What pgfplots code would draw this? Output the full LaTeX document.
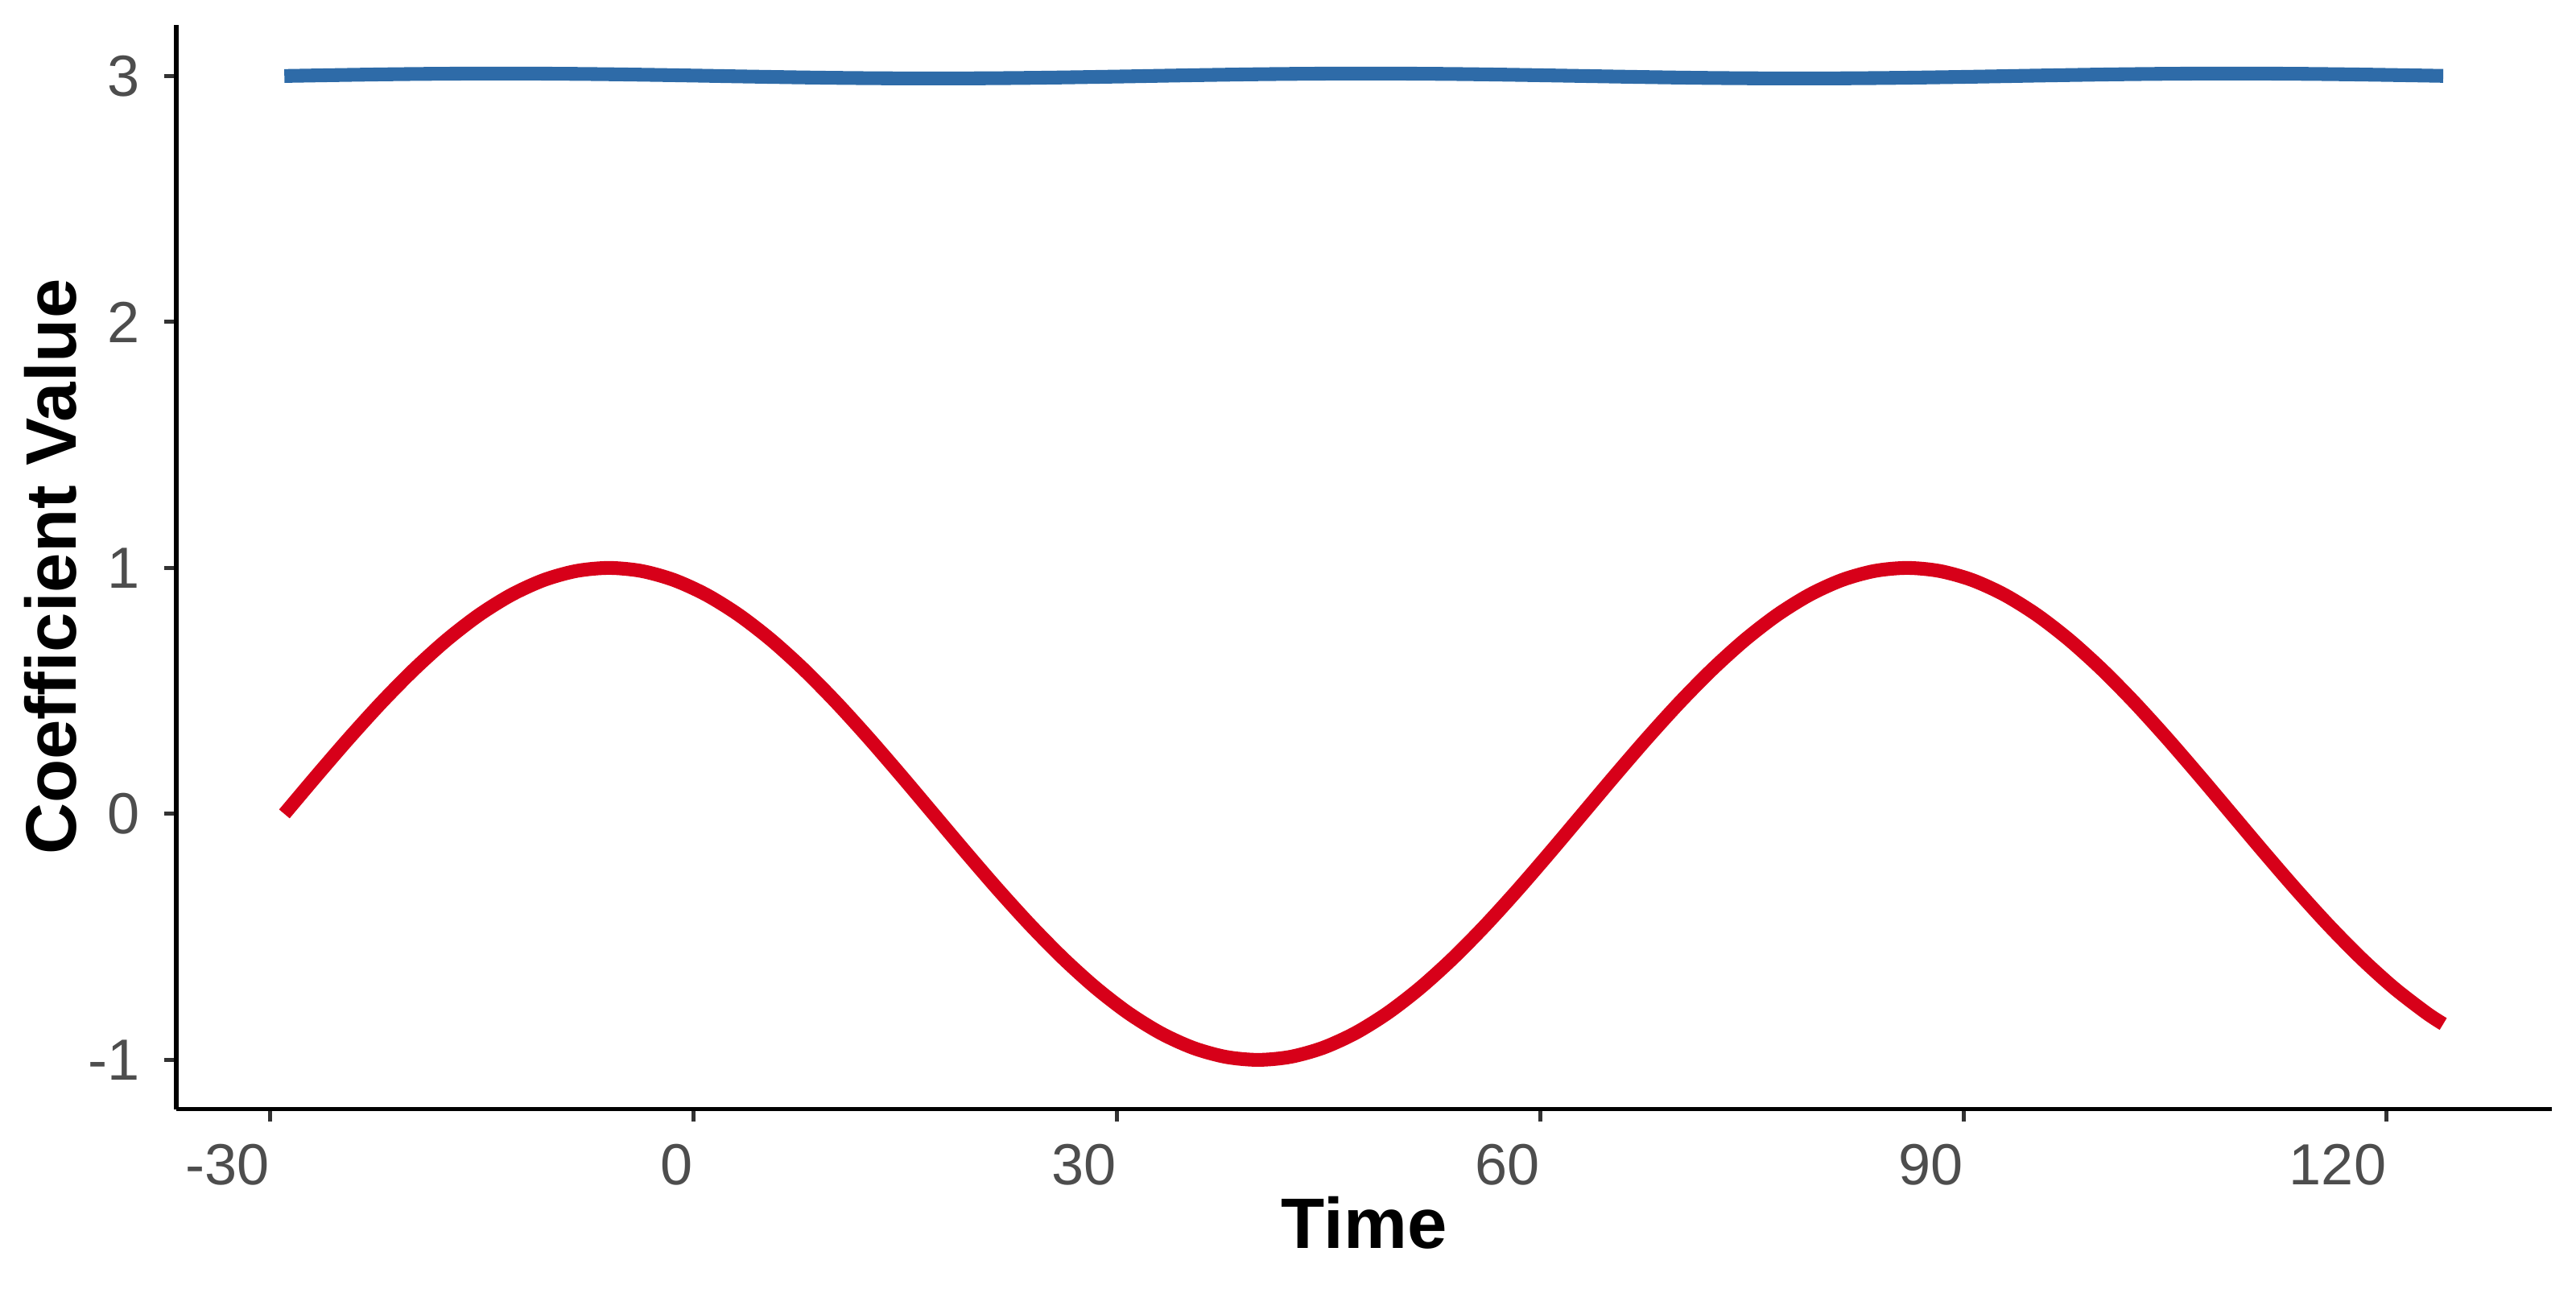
\documentclass[border=0pt]{standalone}
\usepackage{fontspec}
\setmainfont{Liberation Sans}
\usepackage{pgfplots}
\usepackage{pgfplotstable}
\pgfplotsset{compat=1.18}
\definecolor{redline}{RGB}{215,0,25}
\definecolor{blueline}{RGB}{46,107,168}
\definecolor{ticktext}{RGB}{77,77,77}
\definecolor{tickcol}{RGB}{51,51,51}
\pgfplotstableread{
t red blue
-29 0 3.0000
-26.7 0.1564 3.0023
-24.4 0.3090 3.0045
-22.1 0.4540 3.0065
-19.8 0.5878 3.0081
-17.5 0.7071 3.0092
-15.2 0.8090 3.0099
-12.9 0.8910 3.0100
-10.6 0.9511 3.0095
-8.3 0.9877 3.0085
-6 1 3.0071
-3.7 0.9877 3.0052
-1.4 0.9511 3.0031
0.9 0.8910 3.0008
3.2 0.8090 2.9984
5.5 0.7071 2.9962
7.8 0.5878 2.9941
10.1 0.4540 2.9924
12.4 0.3090 2.9911
14.7 0.1564 2.9903
17 0 2.9900
19.3 -0.1564 2.9903
21.6 -0.3090 2.9911
23.9 -0.4540 2.9924
26.2 -0.5878 2.9941
28.5 -0.7071 2.9962
30.8 -0.8090 2.9984
33.1 -0.8910 3.0008
35.4 -0.9511 3.0031
37.7 -0.9877 3.0052
40 -1 3.0071
42.3 -0.9877 3.0085
44.6 -0.9511 3.0095
46.9 -0.8910 3.0100
49.2 -0.8090 3.0099
51.5 -0.7071 3.0092
53.8 -0.5878 3.0081
56.1 -0.4540 3.0065
58.4 -0.3090 3.0045
60.7 -0.1564 3.0023
63 0 3.0000
65.3 0.1564 2.9977
67.6 0.3090 2.9955
69.9 0.4540 2.9935
72.2 0.5878 2.9919
74.5 0.7071 2.9908
76.8 0.8090 2.9901
79.1 0.8910 2.9900
81.4 0.9511 2.9905
83.7 0.9877 2.9915
86 1 2.9929
88.3 0.9877 2.9948
90.6 0.9511 2.9969
92.9 0.8910 2.9992
95.2 0.8090 3.0016
97.5 0.7071 3.0038
99.8 0.5878 3.0059
102.1 0.4540 3.0076
104.4 0.3090 3.0089
106.7 0.1564 3.0097
109 0 3.0100
111.3 -0.1564 3.0097
113.6 -0.3090 3.0089
115.9 -0.4540 3.0076
118.2 -0.5878 3.0059
120.5 -0.7071 3.0038
122.8 -0.8090 3.0016
124 -0.8540 3.0003
}\coef
\begin{document}
\begin{tikzpicture}
\path[use as bounding box] (0,0) rectangle (768pt,384pt);
\begin{axis}[
  at={(52.6pt,53.4pt)}, anchor=south west,
  scale only axis, width=708.2pt, height=323.2pt,
  xmin=-36.65, xmax=131.7, ymin=-1.2, ymax=3.208,
  axis x line=bottom, axis y line=left,
  axis line style={-, line width=1.35pt, black},
  xtick={-30,0,30,60,90,120}, ytick={-1,0,1,2,3},
  tick align=outside, major tick length=3.6pt,
  tick style={line width=1.2pt, tickcol},
  /pgf/number format/assume math mode=true,
  ticklabel style={font=\fontsize{17.3pt}{20pt}\selectfont, text=ticktext, inner sep=0pt},
  xticklabel style={anchor=north east, yshift=-6.6pt},
  yticklabel style={anchor=east, xshift=-7.2pt},
  xlabel={Time}, ylabel={Coefficient Value},
  label style={font=\bfseries\fontsize{21.3pt}{25pt}\selectfont, inner sep=0pt},
  xlabel style={at={(axis description cs:0.5,-0.1287)}, anchor=base},
  ylabel style={at={(axis description cs:-0.04208,0.5)}, anchor=base},
  clip=false,
]
\addplot[blueline, line width=4.1pt, line join=round, smooth] table[x=t, y=blue] {\coef};
\addplot[redline, line width=4.1pt, line join=round, smooth] table[x=t, y=red] {\coef};
\end{axis}
\end{tikzpicture}
\end{document}
